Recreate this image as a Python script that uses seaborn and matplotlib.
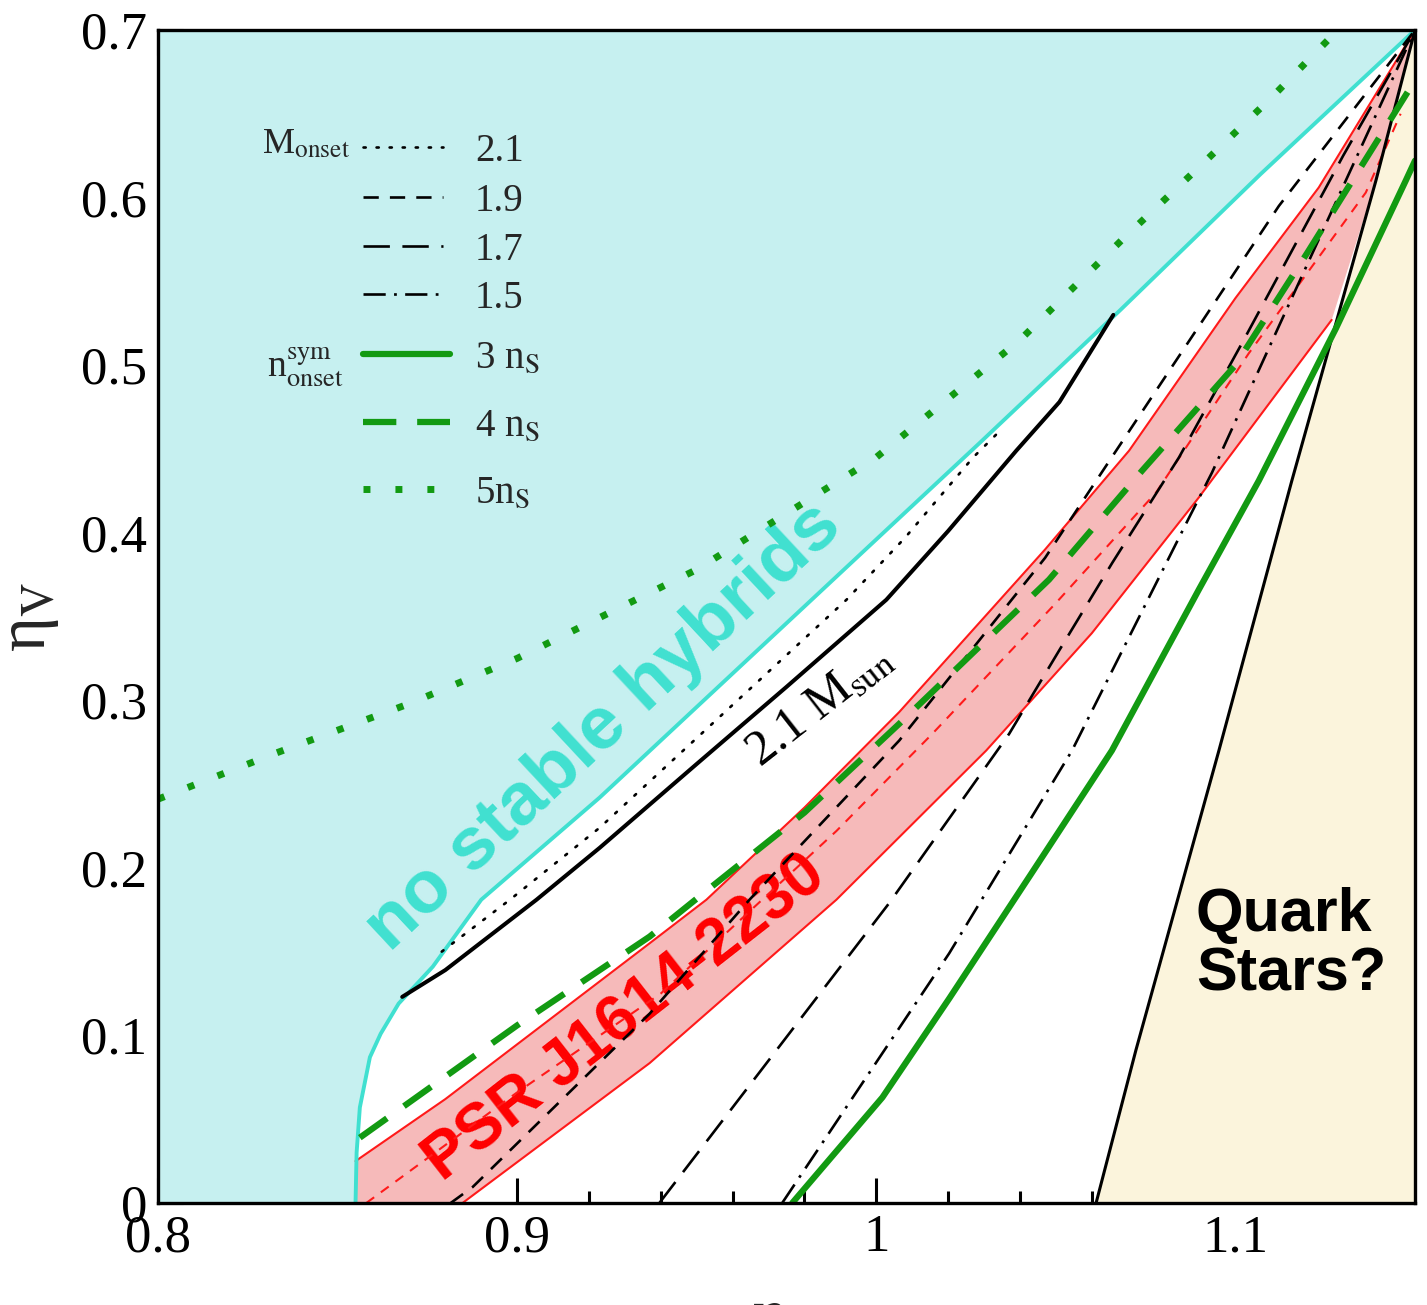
import numpy as np
import pandas as pd
import matplotlib
matplotlib.use("Agg")
import matplotlib.pyplot as plt
from matplotlib.ticker import MultipleLocator
import seaborn as sns

# ---------------- data ----------------
# boundary of "no stable hybrids" region
cyan_x = [0.855, 0.8553, 0.8562, 0.859, 0.862, 0.867, 0.8765, 0.890, 0.923, 0.983, 1.006, 1.029, 1.068, 1.107, 1.150]
cyan_y = [0.000, 0.030, 0.057, 0.087, 0.101, 0.119, 0.141, 0.181, 0.242, 0.362, 0.408, 0.454, 0.533, 0.614, 0.700]
# 2.1 M_sun solid black
m21_x = [0.868, 0.880, 0.9054, 0.923, 0.950, 0.975, 1.0028, 1.020, 1.039, 1.051, 1.066]
m21_y = [0.123, 0.139, 0.181, 0.212, 0.262, 0.308, 0.360, 0.401, 0.449, 0.478, 0.530]
# M_onset = 2.1 (dotted)
on21_x = [0.879, 0.898, 0.923, 0.9917, 1.008, 1.027, 1.035]
on21_y = [0.150, 0.181, 0.224, 0.360, 0.397, 0.445, 0.462]
# M_onset = 1.9 (short dash)
on19_x = [0.8815, 0.8876, 0.9369, 0.9647, 1.0064, 1.047, 1.0668, 1.1121, 1.1435, 1.150]
on19_y = [0.000, 0.0095, 0.113, 0.181, 0.276, 0.385, 0.449, 0.595, 0.682, 0.700]
# M_onset = 1.7 (long dash)
on17_x = [0.9396, 1.0036, 1.037, 1.051, 1.0657, 1.0843, 1.1018, 1.1149, 1.1300, 1.150]
on17_y = [0.000, 0.179, 0.280, 0.330, 0.382, 0.445, 0.513, 0.565, 0.625, 0.700]
# M_onset = 1.5 (dash-dot)
on15_x = [0.9738, 1.0203, 1.0545, 1.0871, 1.0935, 1.1129, 1.150]
on15_y = [0.000, 0.149, 0.270, 0.409, 0.436, 0.527, 0.700]
# n_onset^sym = 3 n_s (solid green)
n3_x = [0.9766, 1.0017, 1.0203, 1.0430, 1.0656, 1.0898, 1.1065, 1.1280, 1.1474, 1.150]
n3_y = [0.000, 0.063, 0.122, 0.196, 0.270, 0.366, 0.431, 0.522, 0.610, 0.622]
# n_onset^sym = 4 n_s (dashed green)
n4_x = [0.8562, 0.900, 0.9369, 0.9508, 0.980, 1.0064, 1.0481, 1.074, 1.100, 1.120, 1.150]
n4_y = [0.039, 0.106, 0.159, 0.183, 0.233, 0.286, 0.372, 0.437, 0.500, 0.567, 0.670]
# n_onset^sym = 5 n_s (dotted green)
n5_x = [0.800, 0.8331, 0.870, 0.900, 0.950, 1.000, 1.040, 1.069, 1.0898, 1.1102, 1.1285]
n5_y = [0.241, 0.2687, 0.298, 0.325, 0.378, 0.445, 0.515, 0.576, 0.618, 0.660, 0.700]
# PSR J1614-2230 band
psr_up_x = [0.855, 0.880, 0.9369, 0.9527, 0.980, 1.0064, 1.047, 1.0704, 1.100, 1.1232, 1.150]
psr_up_y = [0.025, 0.062, 0.155, 0.181, 0.236, 0.293, 0.390, 0.449, 0.540, 0.606, 0.700]
psr_lo_x = [0.8848, 0.9369, 0.9889, 1.0306, 1.0600, 1.0898, 1.1268]
psr_lo_y = [0.000, 0.0835, 0.181, 0.270, 0.340, 0.421, 0.527]
psr_mid_x = [0.858, 0.900, 0.940, 0.9889, 1.0156, 1.050, 1.0779, 1.1037, 1.1363, 1.146]
psr_mid_y = [0.000, 0.066, 0.125, 0.222, 0.280, 0.358, 0.424, 0.507, 0.603, 0.650]
# quark-star boundary
qs_x = [1.0612, 1.0723, 1.0954, 1.1157, 1.1391, 1.150]
qs_y = [0.000, 0.0913, 0.270, 0.431, 0.610, 0.700]

legend_mass = ["2.1", "1.9", "1.7", "1.5"]
legend_dens = [r"3 n$_{\rm S}$", r"4 n$_{\rm S}$", r"5n$_{\rm S}$"]

XMIN, XMAX, YMIN, YMAX = 0.8, 1.15, 0.0, 0.7

# ---------------- style ----------------
sns.set_theme(style="ticks")
plt.rcParams["font.family"] = ["Liberation Serif", "DejaVu Serif"]
plt.rcParams["mathtext.fontset"] = "stix"
plt.rcParams["lines.scale_dashes"] = False

C_CYAN = "#40e0d0"
C_CYANFILL = "#c6f0f0"
C_RED = "#ff1a1a"
C_REDFILL = "#f6baba"
C_QFILL = "#fbf4dc"
C_GREEN = "#129a12"

fig = plt.figure(figsize=(14.27, 13.05), dpi=100)
ax = fig.add_axes([158 / 1427, 102 / 1305, 1257 / 1427, 1173 / 1305])
ax.set_facecolor("white")


def line(x, y, **kw):
    sns.lineplot(x=x, y=y, ax=ax, estimator=None, sort=False, legend=False, **kw)


# ---------------- fills ----------------
ax.fill([XMIN] + cyan_x + [XMAX, XMIN], [YMIN] + cyan_y + [YMAX, YMAX],
        color=C_CYANFILL, lw=0, zorder=1)
ax.fill(qs_x + [XMAX], qs_y + [YMIN], color=C_QFILL, lw=0, zorder=1)
band_x = psr_up_x + qs_x[::-1][:2] + psr_lo_x[::-1] + [psr_up_x[0]]
band_y = psr_up_y + qs_y[::-1][:2] + psr_lo_y[::-1] + [YMIN]
ax.fill(band_x, band_y, color=C_REDFILL, lw=0, zorder=1)

# ---------------- texts in plot ----------------
ax.text(0.924, 0.284, "no stable hybrids", rotation=43, fontsize=54, color=C_CYAN,
        fontweight="bold", family=["Liberation Sans", "DejaVu Sans"],
        ha="center", va="center", rotation_mode="anchor", zorder=2)
ax.text(0.930, 0.110, "PSR J1614-2230", rotation=38, fontsize=46, color="red",
        fontweight="bold", family=["Liberation Sans", "DejaVu Sans"],
        ha="center", va="center", rotation_mode="anchor", zorder=2)
ax.text(0.984, 0.297, r"2.1 M$_{\rm sun}$", rotation=38, fontsize=36, color="black",
        ha="center", va="center", rotation_mode="anchor", zorder=2)
ax.text(1.089, 0.154, "Quark\nStars?", fontsize=44, color="black", fontweight="bold",
        family=["Liberation Sans", "DejaVu Sans"], ha="left", va="center",
        linespacing=1.05, zorder=2)

# ---------------- lines ----------------
line(psr_up_x, psr_up_y, color=C_RED, linewidth=1.5, zorder=3)
line(psr_lo_x, psr_lo_y, color=C_RED, linewidth=1.5, zorder=3)
line(psr_mid_x, psr_mid_y, color=C_RED, linewidth=1.5, linestyle=(0, (7, 6)), zorder=3)
line(cyan_x, cyan_y, color=C_CYAN, linewidth=2.8, zorder=4)
line(qs_x, qs_y, color="black", linewidth=2.2, zorder=4)
line(m21_x, m21_y, color="black", linewidth=2.9, zorder=4)

S_21 = (0, (1.6, 7.8))
S_19 = (0, (11, 8))
S_17 = (0, (19, 9))
S_15 = (0, (16, 6, 2, 6))
S_4 = (0, (24, 15))
S_5 = (0, (5, 18))

line(on21_x, on21_y, color="black", linewidth=1.9, linestyle=S_21, dash_capstyle="round", zorder=4)
line(on19_x, on19_y, color="black", linewidth=1.9, linestyle=S_19, zorder=4)
line(on17_x, on17_y, color="black", linewidth=1.9, linestyle=S_17, zorder=4)
line(on15_x, on15_y, color="black", linewidth=1.9, linestyle=S_15, zorder=4)
line(n3_x, n3_y, color=C_GREEN, linewidth=4.5, zorder=5)
line(n4_x, n4_y, color=C_GREEN, linewidth=4.5, linestyle=S_4, zorder=5)
line(n5_x, n5_y, color=C_GREEN, linewidth=5.0, linestyle=S_5, zorder=5)

# ---------------- hand-made legend ----------------
def ax_frac(px, py):
    return (px - 158) / 1257, (1203 - py) / 1173

lx0, _ = ax_frac(363, 0)
lx1, _ = ax_frac(443, 0)
lx1g, _ = ax_frac(450, 0)
tx, _ = ax_frac(475, 0)
rows_py = [147, 197, 246, 294, 354, 422, 489]
styles = [dict(color="black", linewidth=1.9, linestyle=S_21, dash_capstyle="round"),
          dict(color="black", linewidth=1.9, linestyle=S_19),
          dict(color="black", linewidth=1.9, linestyle=S_17),
          dict(color="black", linewidth=1.9, linestyle=S_15),
          dict(color=C_GREEN, linewidth=4.5),
          dict(color=C_GREEN, linewidth=4.5, linestyle=S_4),
          dict(color=C_GREEN, linewidth=5.0, linestyle=S_5)]
labels = legend_mass + legend_dens
for i, (py, st, lab) in enumerate(zip(rows_py, styles, labels)):
    _, fy = ax_frac(0, py)
    x1 = lx1 if i < 4 else lx1g
    ax.plot([lx0, x1], [fy, fy], transform=ax.transAxes, zorder=6, **st)
    ax.text(tx, fy, lab, transform=ax.transAxes, fontsize=28, ha="left",
            va="center_baseline", zorder=6)

mx, my = ax_frac(262, 153)
ax.text(mx, my, r"M$_{\rm onset}$", transform=ax.transAxes, fontsize=26,
        ha="left", va="baseline", zorder=6)
nx, ny = ax_frac(267, 377)
ax.text(nx, ny, r"n$^{\rm sym}_{\rm onset}$", transform=ax.transAxes, fontsize=27,
        ha="left", va="baseline", zorder=6)

# ---------------- axes ----------------
ax.set_xlim(XMIN, XMAX)
ax.set_ylim(YMIN, YMAX)
ax.set_xticks([0.8, 0.9, 1.0, 1.1])
ax.set_xticklabels(["0.8", "0.9", "1", "1.1"])
ax.set_yticks([0.0, 0.1, 0.2, 0.3, 0.4, 0.5, 0.6, 0.7])
ax.set_yticklabels(["0", "0.1", "0.2", "0.3", "0.4", "0.5", "0.6", "0.7"])
ax.xaxis.set_minor_locator(MultipleLocator(0.02))
ax.yaxis.set_minor_locator(MultipleLocator(0.05))
ax.tick_params(which="both", direction="in", top=True, right=True, width=2.2,
               color="black", labelcolor="black")
ax.tick_params(which="major", length=18, labelsize=38, pad=8)
ax.tick_params(which="minor", length=9)
for sp in ax.spines.values():
    sp.set_linewidth(2.4)
    sp.set_color("black")
    sp.set_zorder(10)
ax.set_xlabel("")
ax.set_ylabel(r"η$_{\rm V}$", fontsize=48, labelpad=14)
fig.text(770 / 1427, 16 / 1305, "η", fontsize=48, ha="center", va="top")

fig.savefig("out.png", dpi=100)
